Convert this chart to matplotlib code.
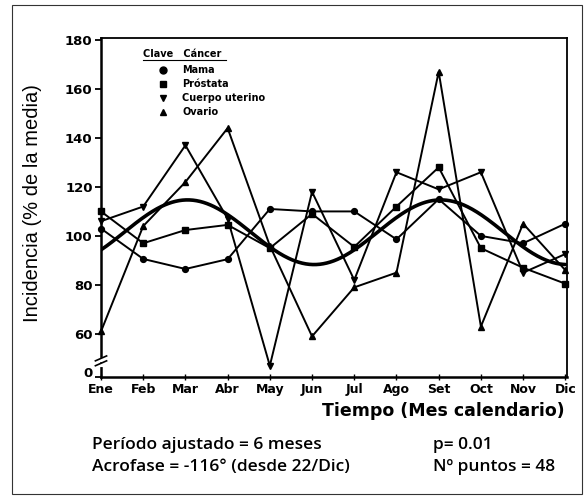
import numpy as np
import matplotlib
matplotlib.use("Agg")
import matplotlib.pyplot as plt
from matplotlib.lines import Line2D
from matplotlib.patches import Rectangle
import matplotlib.transforms as mtransforms

months = ["Ene", "Feb", "Mar", "Abr", "May", "Jun", "Jul", "Ago", "Set", "Oct", "Nov", "Dic"]
mama = [103, 90.6, 86.5, 90.5, 111, 110, 110, 98.6, 115, 100, 97, 105]
prostata = [110, 97, 102.4, 104.5, 95, 109, 95.5, 112, 128, 95, 87, 80.5]
cuerpo = [106, 112, 137, 107, 47, 118, 82, 126, 119, 126, 85, 92.6]
ovario = [61, 104, 122, 144, 96, 59, 79, 85, 167, 63, 105, 86]

# fitted cosinor (period 6 months)
period = 6.0
mesor = 101.5
amplitude = 13.2
peak_month = 2.05

ytick_vals = [42.4, 60, 80, 100, 120, 140, 160, 180]
ytick_labels = ["0", "60", "80", "100", "120", "140", "160", "180"]

W, H = 587, 499
fig = plt.figure(figsize=(W / 100, H / 100), dpi=100)
fig.patch.set_facecolor("white")

# outer border
fig.add_artist(Rectangle((12 / W, 1 - 494 / H), (582 - 12) / W, (494 - 5) / H,
                         transform=fig.transFigure, fill=False, lw=0.8, ec="#333333"))

L, R, T, B = 101, 567, 38, 377
ax = fig.add_axes([L / W, 1 - B / H, (R - L) / W, (B - T) / H])

x = np.arange(len(months))
lw = 1.4
ms = 4.2
ax.plot(x, mama, color="black", lw=lw, marker="o", ms=ms, label="Mama", clip_on=False)
ax.plot(x, prostata, color="black", lw=lw, marker="s", ms=ms, label="Próstata", clip_on=False)
ax.plot(x, cuerpo, color="black", lw=lw, marker="v", ms=ms + 0.6, label="Cuerpo uterino", clip_on=False)
ax.plot(x, ovario, color="black", lw=lw, marker="^", ms=ms + 0.6, label="Ovario", clip_on=False)

t = np.linspace(0, len(months) - 1, 400)
fit = mesor + amplitude * np.cos(2 * np.pi * (t - peak_month) / period)
ax.plot(t, fit, color="black", lw=2.6, solid_capstyle="round")

ax.set_xlim(0, 11.04)
ax.set_ylim(42.4, 180.8)
ax.set_xticks(x)
ax.set_xticklabels(months, fontsize=9, fontweight="bold")
ax.set_yticks(ytick_vals)
ax.set_yticklabels(ytick_labels, fontsize=9.5, fontweight="bold")
ax.tick_params(axis="y", direction="out", length=4, width=1.3, pad=2)
ax.tick_params(axis="x", direction="inout", length=5, width=1.0, pad=2)
ax.get_yticklabels()[0].set_va("baseline")

for s in ["left", "bottom"]:
    ax.spines[s].set_linewidth(1.8)
for s in ["top", "right"]:
    ax.spines[s].set_linewidth(1.3)

# axis break marks on the left spine
trans = mtransforms.blended_transform_factory(ax.transAxes, ax.transData)
ax.plot([-0.006, 0.006], [47.5, 47.5], transform=trans, color="white", lw=3, clip_on=False, zorder=5)
ax.plot([-0.006, 0.006], [49.5, 49.5], transform=trans, color="white", lw=3, clip_on=False, zorder=5)
ax.plot([-0.012, 0.012], [47.0, 49.0], transform=trans, color="black", lw=1.2, clip_on=False, zorder=6)
ax.plot([-0.012, 0.012], [49.0, 51.0], transform=trans, color="black", lw=1.2, clip_on=False, zorder=6)

fig.text(33 / W, 1 - 203 / H, "Incidencia (% de la media)", rotation=90, ha="center", va="center",
         fontsize=14.5, family="Liberation Sans")
fig.text(565 / W, 1 - 411 / H, "Tiempo (Mes calendario)", ha="right", va="center",
         fontsize=12.5, fontweight="bold")

# legend
handles = [Line2D([0], [0], color="black", marker=m, ls="none", ms=5) for m in ["o", "s", "v", "^"]]
leg = ax.legend(handles, ["Mama", "Próstata", "Cuerpo uterino", "Ovario"],
                loc="upper left", bbox_to_anchor=((158 - L) / (R - L), 1 - (65 - T) / (B - T)),
                frameon=False, prop={"size": 7, "weight": "bold"}, handlelength=1.0,
                handletextpad=1.5, labelspacing=0.42, borderpad=0, borderaxespad=0)
fig.text(143 / W, 1 - 54 / H, "Clave   Cáncer", fontsize=7, fontweight="bold", va="center", ha="left")
fig.add_artist(Line2D([143 / W, 226 / W], [1 - 59.5 / H, 1 - 59.5 / H], color="black", lw=0.8))

# bottom annotations
fprops = dict(fontsize=12.5, family="Open Sans", fontweight="semibold", va="center", ha="left")
fig.text(92 / W, 1 - 445 / H, "Período ajustado = 6 meses", **fprops)
fig.text(92 / W, 1 - 467 / H, "Acrofase = -116° (desde 22/Dic)", **fprops)
fig.text(433 / W, 1 - 445 / H, "p= 0.01", **fprops)
fig.text(433 / W, 1 - 467 / H, "Nº puntos = 48", **fprops)

fig.savefig("out.png", dpi=100, facecolor="white")
